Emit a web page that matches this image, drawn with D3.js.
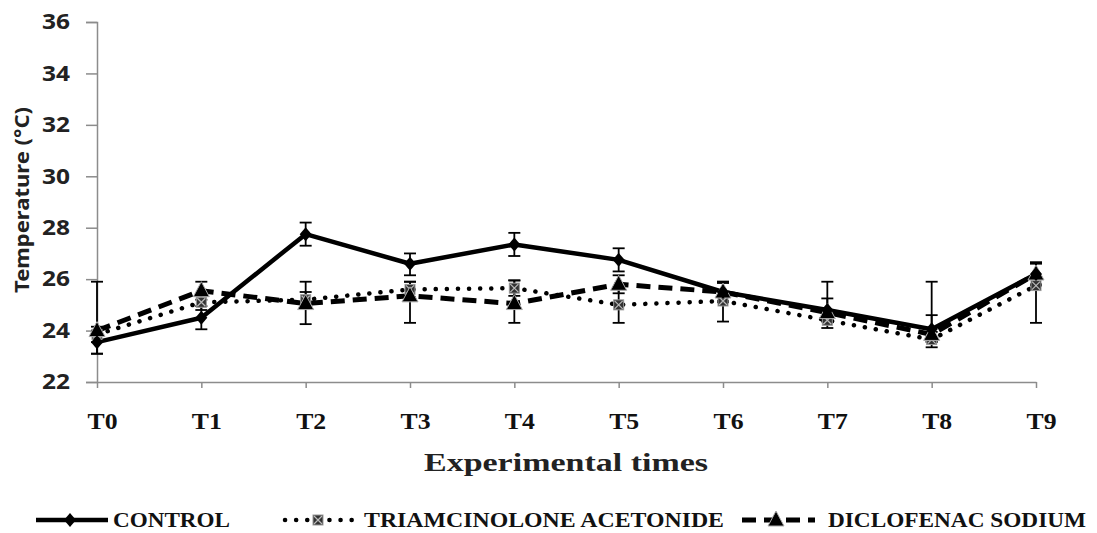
<!DOCTYPE html>
<html><head><meta charset="utf-8">
<script src="https://cdn.jsdelivr.net/npm/d3@7"></script>
<style>body{margin:0;background:#fff}</style>
</head><body>
<svg id="c" width="1097" height="533"></svg>
<script>
const categories = ["T0","T1","T2","T3","T4","T5","T6","T7","T8","T9"];
const yTicks = [22,24,26,28,30,32,34,36];
const seriesNames = ["CONTROL","TRIAMCINOLONE ACETONIDE","DICLOFENAC SODIUM"];
const controlValues = [23.55,24.5,27.75,26.6,27.35,26.75,25.5,24.8,24.05,26.2];
const controlErrPlus = [0.45,0.45,0.45,0.4,0.45,0.45,0.35,0.45,0.55,0.45];
const controlErrMinus = [0.45,0.45,0.45,0.45,0.45,0.45,0.35,0.45,0.45,0.45];
const triamValues = [23.85,25.1,25.2,25.6,25.65,25.0,25.15,24.4,23.65,25.75];
const triamErrPlus = [0.3,0.3,0.3,0.3,0.3,0.7,0.75,0.3,0.3,0.9];
const triamErrMinus = [0.3,0.3,0.3,0.3,0.3,0.7,0.8,0.3,0.3,1.45];
const dicloValues = [24.0,25.55,25.05,25.35,25.05,25.8,25.5,24.7,23.85,26.2];
const dicloErrPlus = [1.9,0.35,0.85,0.55,0.9,0.35,0.4,1.2,2.05,0.4];
const dicloErrMinus = [0.9,0.35,0.8,1.05,0.75,0.35,0.4,0.3,0.3,0.4];

const svg = d3.select("#c");
const x = d3.scalePoint().domain(categories).range([97,1036]);
const y = d3.scaleLinear().domain([22,36]).range([382,22]);
const axisColor = "#8c8c8c";

// Y axis
const ya = svg.append("g").attr("transform","translate(97,0)")
  .call(d3.axisLeft(y).tickValues(yTicks).tickSize(11).tickPadding(16).tickFormat(d3.format("d")));
ya.select(".domain").attr("stroke",axisColor).attr("stroke-width",1.5);
ya.selectAll(".tick line").attr("stroke",axisColor).attr("stroke-width",1.5);
ya.selectAll(".tick text").attr("font-family","'Noto Sans', sans-serif").attr("font-weight","bold")
  .attr("font-size",21).attr("fill","#222").attr("textLength",28).attr("lengthAdjust","spacingAndGlyphs");

// X axis
const xa = svg.append("g").attr("transform","translate(0,382)")
  .call(d3.axisBottom(x).tickSize(6).tickSizeOuter(0).tickPadding(24));
xa.select(".domain").attr("stroke",axisColor).attr("stroke-width",1.5);
xa.selectAll(".tick line").attr("stroke",axisColor).attr("stroke-width",1.5);
xa.selectAll(".tick text").attr("font-family","'Liberation Serif', serif").attr("font-weight","bold")
  .attr("font-size",24).attr("fill","#111").attr("dx",5).attr("textLength",30).attr("lengthAdjust","spacingAndGlyphs");

// Axis titles
svg.append("text").attr("transform","translate(29,200) rotate(-90)").attr("text-anchor","middle")
  .attr("font-family","'Noto Sans', sans-serif").attr("font-weight","bold").attr("font-size",19)
  .attr("fill","#222").attr("textLength",186).attr("lengthAdjust","spacingAndGlyphs").text("Temperature (°C)");
svg.append("text").attr("x",566).attr("y",471).attr("text-anchor","middle")
  .attr("font-family","'Liberation Serif', serif").attr("font-weight","bold").attr("font-size",26)
  .attr("fill","#222").attr("textLength",284).attr("lengthAdjust","spacingAndGlyphs").text("Experimental times");

const series = [
  {name:seriesNames[0], vals:controlValues, ep:controlErrPlus, em:controlErrMinus, dash:null, w:4.5, cap:"butt", marker:"diamond"},
  {name:seriesNames[1], vals:triamValues, ep:triamErrPlus, em:triamErrMinus, dash:"0.1 11", w:4.5, cap:"round", marker:"xsquare"},
  {name:seriesNames[2], vals:dicloValues, ep:dicloErrPlus, em:dicloErrMinus, dash:"14 8", w:5, cap:"butt", marker:"triangle"}
];

const line = d3.line().x((d,i)=>x(categories[i])).y(d=>y(d));

function drawMarker(g, type, cx, cy){
  if(type==="diamond"){
    g.append("path").attr("d",`M${cx},${cy-7}L${cx+6},${cy}L${cx},${cy+7}L${cx-6},${cy}Z`).attr("fill","#000");
  } else if(type==="xsquare"){
    g.append("rect").attr("x",cx-5).attr("y",cy-5).attr("width",10).attr("height",10).attr("fill","#333").attr("stroke","#999").attr("stroke-width",1);
    g.append("path").attr("d",`M${cx-4},${cy-4}L${cx+4},${cy+4}M${cx+4},${cy-4}L${cx-4},${cy+4}`).attr("stroke","#bbb").attr("stroke-width",1.2);
  } else {
    g.append("path").attr("d",`M${cx},${cy-9}L${cx+8},${cy+6}L${cx-8},${cy+6}Z`).attr("fill","#000").attr("stroke","#aaa").attr("stroke-width",1);
  }
}

const drawOrder = [1,2,0];
drawOrder.forEach(k=>{
  const s = series[k];
  svg.append("path").datum(s.vals).attr("d",line).attr("fill","none").attr("stroke","#000")
    .attr("stroke-width",s.w).attr("stroke-linecap",s.cap).attr("stroke-linejoin","round")
    .attr("stroke-dasharray",s.dash);
});
// error bars
series.forEach(s=>{
  const g = svg.append("g").attr("stroke","#000").attr("stroke-width",1.8);
  s.vals.forEach((v,i)=>{
    const cx = x(categories[i]);
    const top = y(v+s.ep[i]), bot = y(v-s.em[i]);
    g.append("line").attr("x1",cx).attr("x2",cx).attr("y1",top).attr("y2",bot);
    g.append("line").attr("x1",cx-6).attr("x2",cx+6).attr("y1",top).attr("y2",top);
    g.append("line").attr("x1",cx-6).attr("x2",cx+6).attr("y1",bot).attr("y2",bot);
  });
});
// markers
drawOrder.forEach(k=>{
  const s = series[k];
  const g = svg.append("g");
  s.vals.forEach((v,i)=>drawMarker(g, s.marker, x(categories[i]), y(v)));
});

// Legend
const legend = [
  {x1:36,x2:108,mx:70,tx:113,tl:117},
  {x1:285,x2:352,mx:318,tx:364,tl:360},
  {x1:742,x2:815,mx:776,tx:828,tl:258}
];
series.forEach((s,k)=>{
  const L = legend[k];
  const g = svg.append("g");
  const ly = 520;
  g.append("line").attr("x1",L.x1).attr("x2",L.x2).attr("y1",ly).attr("y2",ly)
    .attr("stroke","#000").attr("stroke-width",s.w).attr("stroke-linecap",s.cap).attr("stroke-dasharray",s.dash);
  drawMarker(g, s.marker, L.mx, ly);
  g.append("text").attr("x",L.tx).attr("y",527).attr("font-family","'Liberation Serif', serif")
    .attr("font-weight","bold").attr("font-size",22).attr("fill","#111")
    .attr("textLength",L.tl).attr("lengthAdjust","spacingAndGlyphs").text(s.name);
});
</script>
</body></html>
